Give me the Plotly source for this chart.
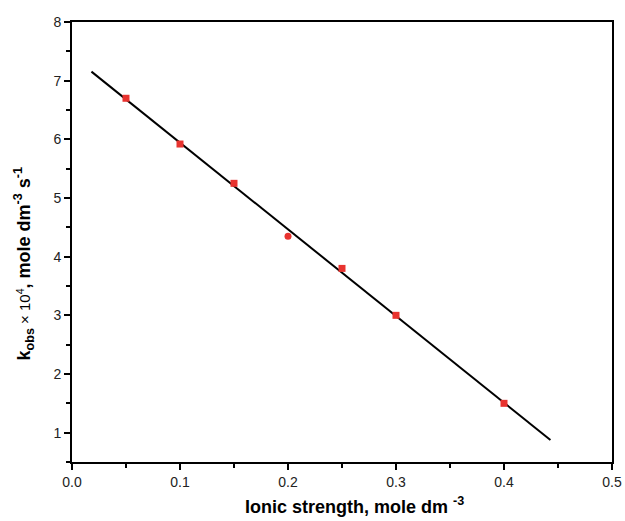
import numpy as np
import plotly.graph_objects as go

ionic_strength = [0.05, 0.10, 0.15, 0.20, 0.25, 0.30, 0.40]
kobs_e4 = [6.70, 5.92, 5.25, 4.35, 3.80, 3.00, 1.50]
marker_symbols = ["square", "square", "square", "circle", "square", "square", "square"]
fit_x_ends = [0.018, 0.443]

slope, intercept = np.polyfit(ionic_strength, kobs_e4, 1)
fit_y = [slope * x + intercept for x in fit_x_ends]

FONT = "Liberation Sans, Arial"

fig = go.Figure()
fig.add_trace(go.Scatter(
    x=fit_x_ends, y=fit_y, mode="lines",
    line=dict(color="black", width=2), showlegend=False))
fig.add_trace(go.Scatter(
    x=ionic_strength, y=kobs_e4, mode="markers",
    marker=dict(color="#e8332f", size=7, symbol=marker_symbols, line=dict(width=0)),
    showlegend=False))

axis_common = dict(
    showgrid=False, zeroline=False, showline=True, linecolor="black", linewidth=2,
    mirror=True, ticks="outside", ticklen=6, tickwidth=2, tickcolor="black",
    tickfont=dict(family=FONT, size=14, color="#222"), automargin=False,
)
fig.update_xaxes(
    range=[0, 0.5], dtick=0.1, tick0=0, tickformat=".1f",
    minor=dict(dtick=0.05, ticks="outside", ticklen=4, tickwidth=2, tickcolor="black"),
    **axis_common)
fig.update_yaxes(
    range=[0.5, 8], dtick=1, tick0=0,
    minor=dict(dtick=0.5, ticks="outside", ticklen=4, tickwidth=2, tickcolor="black"),
    **axis_common)

fig.add_annotation(
    text="<b>Ionic strength, mole dm <sup>-3</sup></b>",
    xref="paper", yref="paper", x=0.524, y=-0.13, xanchor="center", yanchor="bottom",
    showarrow=False, font=dict(family=FONT, size=18, color="black"))
fig.add_annotation(
    text="<b>k<sub>obs</sub></b><span style='font-size:15px'> × 10<sup>4</sup></span><b>, mole dm<sup>-3</sup> s<sup>-1</sup></b>",
    xref="paper", yref="paper", x=-0.063, y=0.45, xanchor="right", yanchor="middle",
    textangle=-90, showarrow=False, font=dict(family=FONT, size=18, color="black"))

fig.update_layout(
    width=625, height=521,
    margin=dict(l=72, r=13, t=22, b=59),
    paper_bgcolor="white", plot_bgcolor="white",
)
fig.write_html("out.html")
